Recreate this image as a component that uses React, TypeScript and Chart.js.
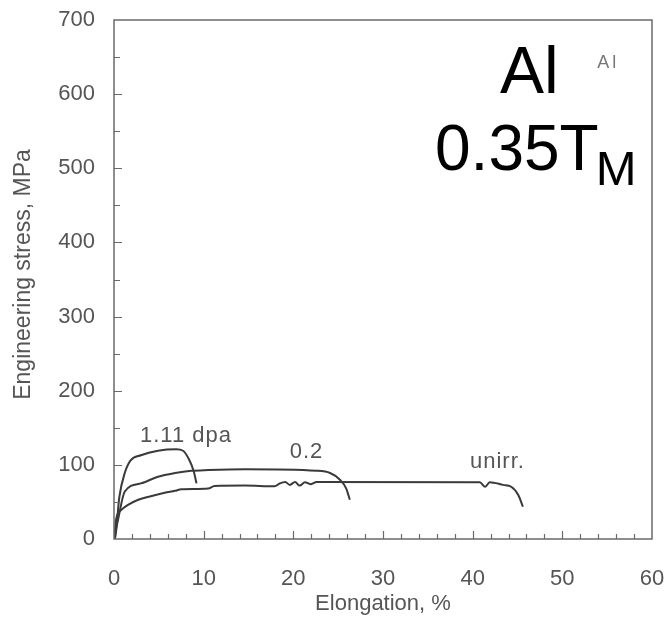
import React, { useEffect, useRef } from "react";
import { Chart, registerables } from "chart.js";

Chart.register(...registerables);

// Tensile curves: elongation (%) vs engineering stress (MPa)
const elong111 = [0, 0.15, 0.6, 1.2, 1.85, 3.0, 4.9, 6.95, 7.7, 8.4, 8.9, 9.2];
const stress111 = [0, 3, 57, 89, 106, 113, 119, 121, 119, 106.5, 91, 75];

const elong02 = [0, 0.45, 1.2, 3.0, 4.9, 6.8, 8.6, 10.5, 14.6, 22.6, 24.1, 25.2, 25.9, 26.3];
const stress02 = [0, 26, 64, 75, 84, 89, 92, 93, 94, 92, 89, 80, 68, 53];

const elongUnirr = [
  0, 0.26, 0.8, 1.56, 2.7, 4.2, 5.65, 6.8, 7.5, 10.5, 11.2, 14.6, 17.9, 18.5, 19.1, 19.6,
  20.2, 20.7, 21.3, 21.9, 22.6, 40.8, 41.4, 41.9, 43.4, 44.3, 45.1, 45.6,
];
const stressUnirr = [
  0, 28, 39, 46, 53, 58, 62.5, 65, 67, 68, 71.5, 72, 71, 75, 77, 73,
  77, 72, 76.5, 74, 77, 76.5, 70.5, 76.5, 73, 70.5, 59, 43.5,
];

const seriesNames = ["1.11 dpa", "0.2", "unirr."];

// Axis extents and tick steps
const xMin = 0;
const xMax = 60;
const xMinorStep = 2;
const xMajorStep = 10;
const yMin = 0;
const yMax = 700;
const yMinorStep = 50;
const yMajorStep = 100;

const xTitle = "Elongation, %";
const yTitle = "Engineering stress, MPa";

const toPoints = (xs: number[], ys: number[]) => xs.map((x, i) => ({ x, y: ys[i] }));

const CURVE = "#3a3a3a";
const FRAME = "#6a6a6a";
const TEXT = "#555555";
const FONT = "'Liberation Sans', Arial, Helvetica, sans-serif";

// Text placed in data coordinates
const curveLabels = [
  { text: seriesNames[0], x: 2.9, y: 131 },
  { text: seriesNames[1], x: 19.6, y: 109 },
  { text: seriesNames[2], x: 39.7, y: 96 },
];

const framePlugin = {
  id: "frameAndLabels",
  afterDraw(chart: any) {
    const { ctx, chartArea, scales } = chart;
    const { left, right, top, bottom } = chartArea;
    const xs = scales.x;
    const ys = scales.y;
    ctx.save();

    // plot frame
    ctx.strokeStyle = FRAME;
    ctx.lineWidth = 1.5;
    ctx.strokeRect(left, top, right - left, bottom - top);

    // inward tick marks
    ctx.lineWidth = 1.2;
    ctx.strokeStyle = FRAME;
    ctx.beginPath();
    for (let v = xMin + xMinorStep; v < xMax; v += xMinorStep) {
      const px = Math.round(xs.getPixelForValue(v)) + 0.5;
      const len = v % xMajorStep === 0 ? 8 : 5;
      ctx.moveTo(px, bottom);
      ctx.lineTo(px, bottom - len);
    }
    for (let v = yMin + yMinorStep; v < yMax; v += yMinorStep) {
      const py = Math.round(ys.getPixelForValue(v)) + 0.5;
      const len = v % yMajorStep === 0 ? 8 : 6;
      ctx.moveTo(left, py);
      ctx.lineTo(left + len, py);
    }
    ctx.stroke();

    // axis titles
    ctx.fillStyle = TEXT;
    ctx.font = `22px ${FONT}`;
    ctx.textAlign = "center";
    ctx.textBaseline = "alphabetic";
    ctx.fillText(xTitle, (left + right) / 2, 610);

    ctx.save();
    ctx.translate(30, (top + bottom) / 2 - 5);
    ctx.rotate(-Math.PI / 2);
    ctx.font = `23px ${FONT}`;
    ctx.fillText(yTitle, 0, 0);
    ctx.restore();

    // curve labels
    ctx.font = `22px ${FONT}`;
    ctx.textAlign = "left";
    ctx.fillStyle = TEXT;
    (ctx as any).letterSpacing = "1px";
    curveLabels.forEach((l) => {
      ctx.fillText(l.text, xs.getPixelForValue(l.x), ys.getPixelForValue(l.y));
    });
    (ctx as any).letterSpacing = "0px";

    // material / temperature annotation
    ctx.fillStyle = "#000";
    ctx.font = `66px ${FONT}`;
    ctx.fillText("Al", xs.getPixelForValue(43.05), ys.getPixelForValue(601.6));
    const tx = xs.getPixelForValue(35.8);
    const ty = ys.getPixelForValue(497.7);
    ctx.font = `64px ${FONT}`;
    ctx.fillText("0.35T", tx, ty);
    const w = ctx.measureText("0.35T").width;
    ctx.font = `49px ${FONT}`;
    ctx.fillText("M", tx + w - 3, ty + 15);

    ctx.fillStyle = "#777";
    ctx.font = `18px ${FONT}`;
    (ctx as any).letterSpacing = "3px";
    ctx.fillText("Al", xs.getPixelForValue(53.9), ys.getPixelForValue(635));
    (ctx as any).letterSpacing = "0px";

    ctx.restore();
  },
};

export default function App() {
  const ref = useRef<HTMLCanvasElement>(null);

  useEffect(() => {
    if (!ref.current) return;
    const lineStyle = {
      borderColor: CURVE,
      borderWidth: 2,
      pointRadius: 0,
      fill: false,
      cubicInterpolationMode: "monotone" as const,
    };
    const chart = new Chart(ref.current, {
      type: "line",
      data: {
        datasets: [
          { label: seriesNames[0], data: toPoints(elong111, stress111), ...lineStyle },
          { label: seriesNames[1], data: toPoints(elong02, stress02), ...lineStyle },
          { label: seriesNames[2], data: toPoints(elongUnirr, stressUnirr), ...lineStyle },
        ],
      },
      options: {
        animation: false,
        responsive: false,
        layout: { padding: { left: 0, right: 16, top: 20, bottom: 0 } },
        plugins: { legend: { display: false }, tooltip: { enabled: false } },
        scales: {
          x: {
            type: "linear",
            min: xMin,
            max: xMax,
            grid: { display: false, drawTicks: false },
            border: { display: false },
            afterFit: (s: any) => {
              s.height = 98;
              s.paddingLeft = 0;
              s.paddingRight = 0;
            },
            ticks: {
              stepSize: xMajorStep,
              padding: 27,
              color: TEXT,
              font: { family: FONT, size: 22 },
            },
          },
          y: {
            type: "linear",
            min: yMin,
            max: yMax,
            grid: { display: false, drawTicks: false },
            border: { display: false },
            afterFit: (s: any) => {
              s.width = 114;
              s.paddingTop = 0;
              s.paddingBottom = 0;
            },
            ticks: {
              stepSize: yMajorStep,
              padding: 19,
              color: TEXT,
              font: { family: FONT, size: 22 },
            },
          },
        },
      },
      plugins: [framePlugin],
    });
    return () => chart.destroy();
  }, []);

  return (
    <div style={{ position: "absolute", left: 0, top: 0, width: 668, height: 637, background: "#fff" }}>
      <canvas ref={ref} width={668} height={637} />
    </div>
  );
}
